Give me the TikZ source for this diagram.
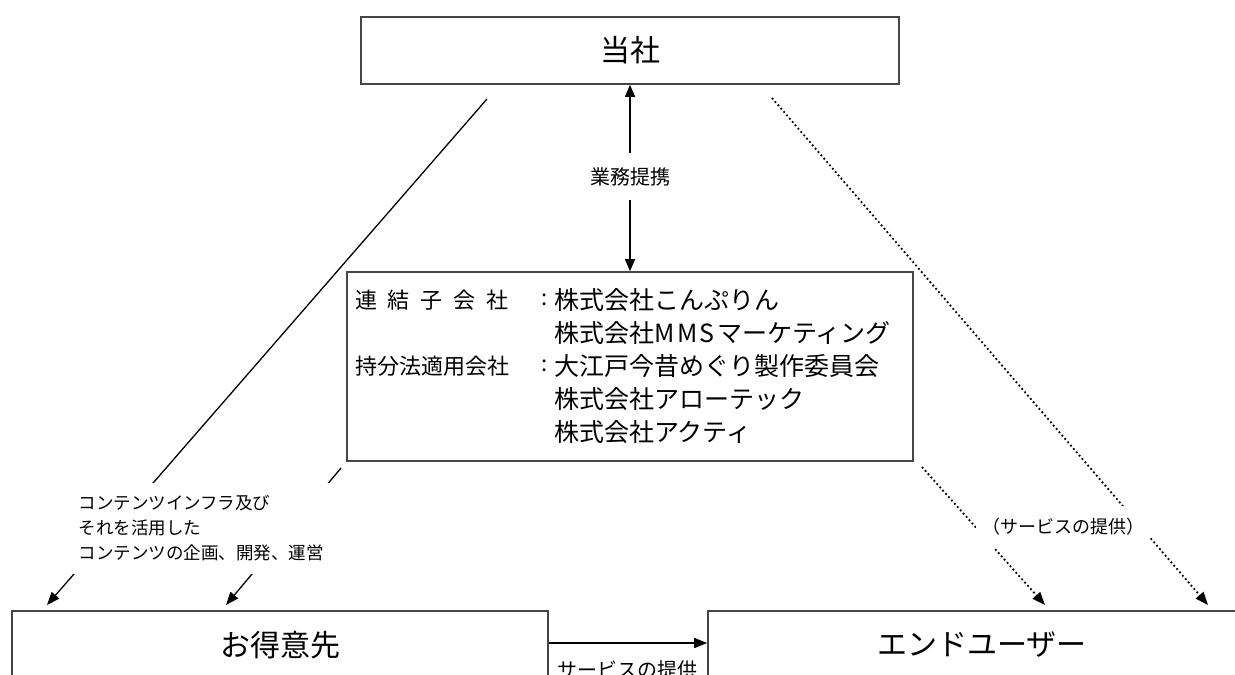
\documentclass[tikz,border=0pt]{standalone}
\usepackage{fontspec}
\setmainfont{Noto Sans CJK JP}
\usetikzlibrary{arrows.meta,calc}
\definecolor{boxgray}{RGB}{70,70,70}
\newcommand\jfs[1]{\fontsize{#1}{#1}\selectfont}
\begin{document}
\begin{tikzpicture}[x=1pt,y=-1pt,
  box/.style={draw=boxgray, line width=1.6pt, fill=white, inner sep=0pt},
  conn/.style={line width=1.3pt, draw=black, -{Triangle[length=13pt,width=10pt]}},
  dotconn/.style={conn, line width=1.8pt, dash pattern=on 1.8pt off 2.6pt},
  lbl/.style={fill=white, inner sep=0pt},
  txt/.style={inner sep=0pt}]
\useasboundingbox (0,0) rectangle (1235,675);
\clip (0,0) rectangle (1235,675);

% boxes
\node[box, minimum width=538pt, minimum height=67pt, font=\jfs{30}] (top) at (630,50.5) {当社};
\node[box, minimum width=566pt, minimum height=189pt] (mid) at (630,366.5) {};
\node[box, minimum width=536pt, minimum height=68pt, font=\jfs{30}] (cust) at (280,645) {お得意先};
\node[box, minimum width=560pt, minimum height=68pt] (user) at (988,645) {};
\node[txt, font=\jfs{30}] (usertxt) at (982,645) {エンドユーザー};

% text inside middle box
\node[txt, anchor=west, font=\jfs{22}] (k1) at (355,300) {\makebox[153pt][s]{連\hfill 結\hfill 子\hfill 会\hfill 社}};
\node[txt, font=\jfs{22}] (c1) at (545,300) {:};
\node[txt, anchor=west, font=\jfs{25}] (n1) at (554,300) {株式会社こんぷりん};
\node[txt, anchor=west, font=\jfs{25}] (n2) at (554,333) {株式会社M\kern2.5pt M\kern2.5pt S\kern3pt マーケティング};
\node[txt, anchor=west, font=\jfs{22}] (k2) at (355,366) {持分法適用会社};
\node[txt, font=\jfs{22}] (c2) at (545,366) {:};
\node[txt, anchor=west, font=\jfs{25}] (n3) at (554,366) {大江戸今昔めぐり製作委員会};
\node[txt, anchor=west, font=\jfs{25}] (n4) at (554,399) {株式会社アローテック};
\node[txt, anchor=west, font=\jfs{25}] (n5) at (554,432) {株式会社アクティ};

% free ends of the diagonal connectors
\coordinate (a1) at (487,99);  \coordinate (a2) at (47,605);
\coordinate (b1) at (341,468); \coordinate (b2) at (226,605);
\coordinate (d1) at (772,98);  \coordinate (d2) at (1208,605);
\coordinate (e1) at (922,467); \coordinate (e2) at (1045,605);

% connectors
\draw[conn, {Triangle[length=12pt,width=10pt]}-{Triangle[length=12pt,width=10pt]}] (top) -- (mid);
\draw[conn] (a1) -- (a2);
\draw[conn] (b1) -- (b2);
\draw[dotconn] (d1) -- (d2);
\draw[dotconn] (e1) -- (e2);
\draw[conn] ([yshift=2pt]cust.east) -- ([yshift=2pt]user.west);

% labels
\node[lbl, font=\jfs{20}, minimum width=90pt, minimum height=47pt] (gyomu) at (630,176.5) {業務提携};
\node[lbl, font=\fontsize{17.5}{25}\selectfont, align=left, text width=245pt, inner xsep=6.5pt, minimum height=91pt] (contlbl) at (201,528.5) {コンテンツインフラ及び\\それを活用した\\コンテンツの企画、開発、運営};
\node[lbl, font=\jfs{18}, minimum width=174pt, minimum height=42pt] (svc) at (1063,527) {（サービスの提供）};
\node[txt, font=\jfs{20}, anchor=north] (svc2) at (627,661) {サービスの提供};
\end{tikzpicture}
\end{document}
